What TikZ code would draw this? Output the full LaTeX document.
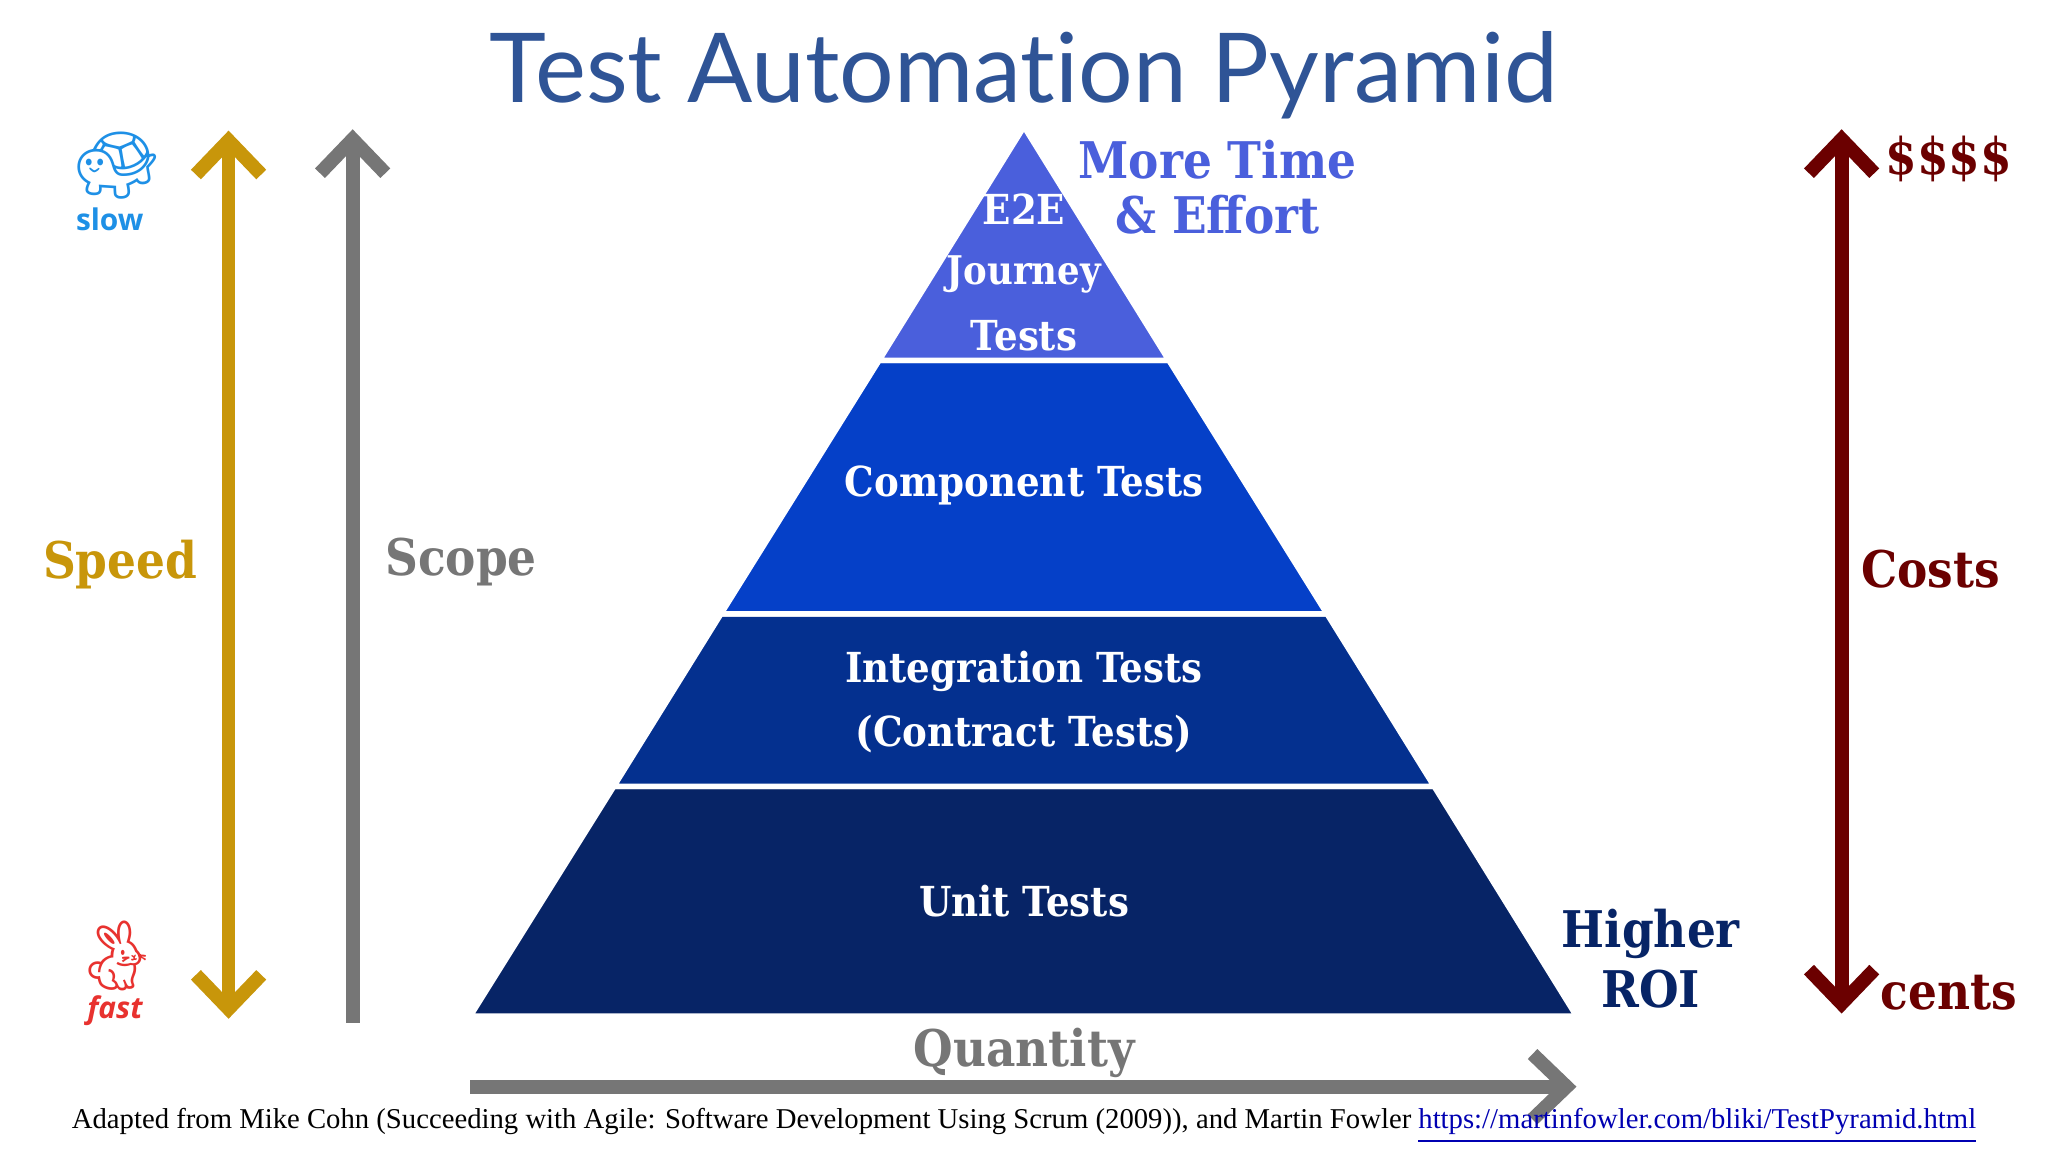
\documentclass[tikz,border=0pt]{standalone}
\usepackage{fontspec}
\setmainfont{Liberation Serif}
\newfontfamily\slab{DejaVu Serif}[FakeStretch=0.9]
\newfontfamily\titlef{Lato}[Ligatures=NoCommon]
\newfontfamily\sansf{Open Sans}
\newfontfamily\emo{Noto Emoji}
\usetikzlibrary{arrows.meta}
\definecolor{tA}{HTML}{4A5FDC}
\definecolor{tB}{HTML}{0540C8}
\definecolor{tC}{HTML}{04308F}
\definecolor{tD}{HTML}{072466}
\definecolor{gold}{HTML}{C8960A}
\definecolor{dred}{HTML}{6B0000}
\definecolor{gr}{HTML}{767676}
\definecolor{ttl}{HTML}{2F5496}
\definecolor{sky}{HTML}{1E90E6}
\definecolor{rab}{HTML}{E8322F}
\tikzset{
 lab/.style={font=\slab\bfseries\fontsize{9}{11}\selectfont,text=white},
 big/.style={font=\slab\bfseries\fontsize{11}{13}\selectfont},
 band/.style={draw=white,line width=1.2pt},
 >={Straight Barb[length=2.6mm,width=5mm,line width=3pt]},
 arr/.style={line width=3pt,->},
 darr/.style={line width=3pt,<->},
}
\begin{document}
\begin{tikzpicture}[x=0.01cm,y=-0.01cm]
\useasboundingbox (0,0) rectangle (1568,882);
\fill[white] (0,0) rectangle (1568,882);
% pyramid
\fill[tD,band] (470,602) -- (1098,602) -- (1207,778) -- (360,778) -- cycle;
\fill[tC,band] (552,470) -- (1016,470) -- (1098,602) -- (470,602) -- cycle;
\fill[tB,band] (673,276) -- (895,276) -- (1016,470) -- (552,470) -- cycle;
\fill[tA,band] (784,97) -- (895,276) -- (673,276) -- cycle;
\node[lab] (e2e) at (784,160) {E2E};
\node[lab,font=\slab\bfseries\fontsize{8.6}{11}\selectfont] (jou) at (784,210) {Journey};
\node[lab] (tst) at (784,257) {Tests};
\node[lab] (comp) at (784,372) {Component Tests};
\node[lab] (int) at (784,514) {Integration Tests};
\node[lab] (con) at (784,562) {(Contract Tests)};
\node[lab] (unit) at (784,690) {Unit Tests};
% title
\node[font=\titlef\fontsize{21}{25}\selectfont,text=ttl] (title) at (784,58) {Test Automation Pyramid};
\node[big,text=tA] (mt) at (932,122) {More Time};
\node[big,text=tA] (ef) at (932,164) {\& Effort};
\node[big,text=tD] (hi) at (1264,715) {Higher};
\node[big,text=tD] (roi) at (1264,757) {ROI};
% arrows
\coordinate (sp1) at (175,100); \coordinate (sp2) at (175,780);
\draw[darr,gold] (sp1) -- (sp2);
\coordinate (sc1) at (270,783); \coordinate (sc2) at (270,99);
\draw[arr,gr] (sc1) -- (sc2);
\coordinate (co1) at (1410,99); \coordinate (co2) at (1410,776);
\draw[darr,dred] (co1) -- (co2);
\coordinate (q1) at (360,832); \coordinate (q2) at (1207,832);
\draw[arr,gr] (q1) -- (q2);
\node[big,text=gold] (speed) at (92,432) {Speed};
\node[big,text=gr] (scope) at (353,430) {Scope};
\node[big,text=dred] (costs) at (1478,436) {Costs};
\node[big,text=dred] (dol) at (1492,122) {\$\$\$\$};
\node[big,text=dred] (cents) at (1492,760) {cents};
\node[big,text=gr] (qty) at (784,806) {Quantity};
% icons
\node[font=\emo\fontsize{15}{15}\selectfont,text=sky] (turtle) at (90,127) {🐢};
\node[font=\sansf\bfseries\fontsize{6.5}{8}\selectfont,text=sky] (slow) at (84,168) {slow};
\node[font=\emo\fontsize{15}{15}\selectfont,text=rab,xscale=-1] (rabbit) at (90,732) {🐇};
\node[font=\sansf\bfseries\itshape\fontsize{6.5}{8}\selectfont,text=rab] (fast) at (88,774) {fast};
% footer
\node[font=\fontsize{6.25}{7}\selectfont] (foot) at (784,862) {Adapted from Mike Cohn (Succeeding with Agile: Software Development Using Scrum (2009)), and Martin Fowler \textcolor{blue!70!black}{\underline{https://martinfowler.com/bliki/TestPyramid.html}}};
\end{tikzpicture}
\end{document}
